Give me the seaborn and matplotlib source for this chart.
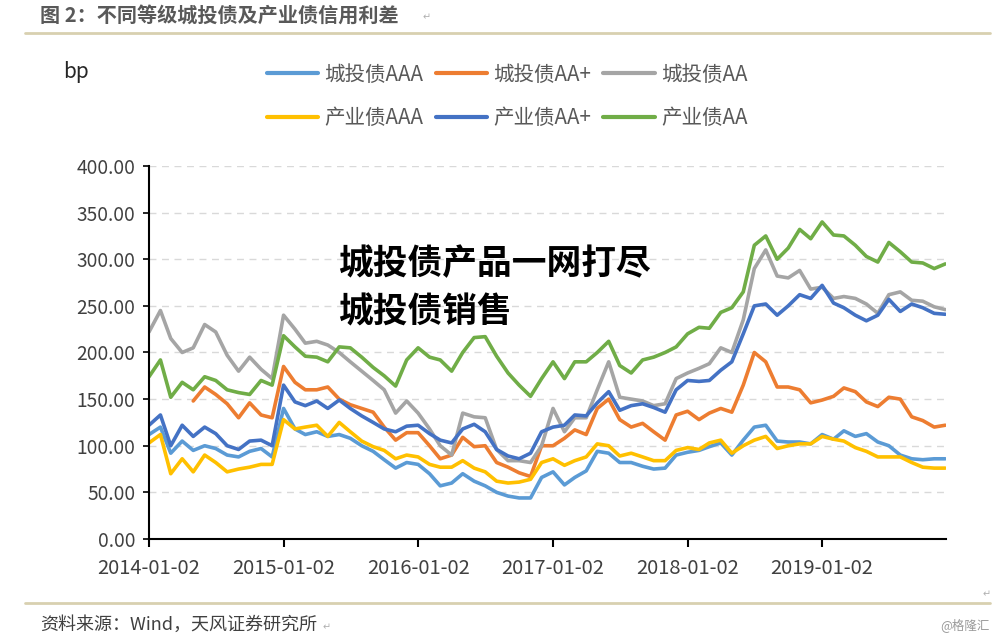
import numpy as np
import pandas as pd
import matplotlib
matplotlib.use('Agg')
import matplotlib.pyplot as plt
from matplotlib.lines import Line2D
from matplotlib.ticker import FuncFormatter
import seaborn as sns

# monthly readings (bp), Jan 2014 - Dec 2019
dates = pd.date_range('2014-01-01', periods=72, freq='MS') + pd.Timedelta(days=1)
nan = np.nan

ct_aaa = [112, 120, 92, 105, 95, 100, 97, 90, 88, 94, 97, 88,
          140, 118, 112, 115, 110, 112, 108, 100, 94, 85, 76, 82,
          80, 70, 57, 60, 70, 62, 57, 50, 46, 44, 44, 66,
          72, 58, 66, 73, 94, 92, 82, 82, 78, 75, 76, 90,
          93, 95, 99, 103, 90, 106, 120, 122, 105, 104, 104, 102,
          112, 107, 116, 110, 113, 104, 100, 90, 86, 85, 86, 86]
ct_aa_plus = [nan, nan, nan, nan, 148, 163, 155, 145, 130, 146, 133, 130,
              185, 168, 160, 160, 163, 150, 144, 140, 136, 120, 106, 114,
              114, 100, 86, 90, 109, 99, 100, 82, 77, 71, 67, 100,
              100, 108, 117, 112, 140, 150, 128, 120, 124, 115, 106, 133,
              137, 128, 135, 140, 136, 165, 200, 190, 163, 163, 160, 146,
              149, 153, 162, 158, 147, 142, 152, 150, 131, 127, 120, 122]
ct_aa = [222, 245, 215, 200, 205, 230, 222, 197, 180, 195, 182, 172,
         240, 225, 210, 212, 208, 200, 190, 180, 170, 160, 135, 148,
         135, 118, 100, 90, 135, 131, 130, 96, 84, 84, 82, 100,
         140, 115, 130, 130, 160, 190, 152, 150, 148, 143, 145, 172,
         178, 183, 188, 205, 200, 235, 290, 310, 282, 280, 288, 268,
         270, 258, 260, 258, 252, 242, 262, 265, 256, 255, 249, 246]
cy_aaa = [103, 112, 70, 86, 72, 90, 82, 72, 75, 77, 80, 80,
          128, 118, 120, 122, 110, 125, 115, 105, 99, 95, 86, 90,
          88, 80, 77, 77, 84, 76, 72, 62, 60, 61, 64, 82,
          86, 79, 84, 88, 102, 100, 89, 92, 88, 84, 84, 95,
          98, 96, 103, 106, 92, 100, 106, 110, 97, 100, 102, 102,
          110, 107, 105, 98, 94, 88, 88, 88, 82, 77, 76, 76]
cy_aa_plus = [122, 133, 100, 122, 110, 120, 113, 100, 96, 105, 106, 100,
              165, 147, 143, 148, 140, 149, 140, 132, 125, 118, 115, 121,
              122, 113, 106, 103, 118, 123, 115, 96, 89, 86, 92, 115,
              120, 122, 133, 132, 146, 158, 138, 143, 145, 141, 136, 160,
              170, 169, 170, 181, 190, 220, 250, 252, 240, 250, 262, 258,
              272, 253, 248, 240, 234, 240, 257, 244, 252, 248, 242, 241]
cy_aa = [174, 192, 152, 168, 160, 174, 170, 160, 157, 155, 170, 165,
         218, 206, 196, 195, 190, 206, 205, 195, 184, 175, 164, 192,
         205, 195, 192, 180, 200, 216, 217, 196, 178, 165, 153, 172,
         190, 172, 190, 190, 200, 212, 186, 178, 192, 195, 200, 206,
         220, 227, 226, 243, 248, 265, 315, 325, 300, 312, 332, 322,
         340, 326, 325, 315, 303, 297, 318, 308, 297, 296, 290, 295]

series_names = ['城投债AAA', '城投债AA+', '城投债AA', '产业债AAA', '产业债AA+', '产业债AA']
colors = ['#5B9BD5', '#ED7D31', '#A5A5A5', '#FFC000', '#4472C4', '#70AD47']
year_ticks = pd.to_datetime([f'{y}-01-02' for y in range(2014, 2020)])

wide = pd.DataFrame({'date': dates})
for name, vals in zip(series_names, [ct_aaa, ct_aa_plus, ct_aa, cy_aaa, cy_aa_plus, cy_aa]):
    wide[name] = vals
df = wide.melt(id_vars='date', var_name='series', value_name='spread').dropna()

sns.set_style('white')
plt.rcParams['font.family'] = ['Noto Sans CJK SC', 'DejaVu Sans']

fig = plt.figure(figsize=(10, 6.38), dpi=100)
ax = fig.add_axes([0.149, 0.1552, 0.797, 0.5846])

sns.lineplot(data=df, x='date', y='spread', hue='series', hue_order=series_names,
             palette=dict(zip(series_names, colors)), linewidth=2.6,
             estimator=None, sort=True, ax=ax)

# axes
ax.set_xlim(pd.Timestamp('2014-01-02'), pd.Timestamp('2019-12-04'))
ax.set_ylim(0, 400)
ax.set_yticks(np.arange(0, 401, 50))
ax.yaxis.set_major_formatter(FuncFormatter(lambda v, p: f'{v:.2f}'))
ax.set_xticks(year_ticks)
ax.set_xticklabels([d.strftime('%Y-%m-%d') for d in year_ticks])
ax.set_xlabel('')
ax.set_ylabel('')
ax.yaxis.grid(True, color='#d9d9d9', linestyle=(0, (5, 4)), linewidth=1)
ax.set_axisbelow(True)
for side in ['top', 'right']:
    ax.spines[side].set_visible(False)
for side in ['left', 'bottom']:
    ax.spines[side].set_color('black')
    ax.spines[side].set_linewidth(1.5)
ax.tick_params(axis='x', direction='out', length=6, width=1.5, color='black',
               labelsize=14.5, labelcolor='#404040', pad=8, bottom=True)
ax.tick_params(axis='y', direction='out', length=4, width=1.2, color='black',
               labelsize=13.8, labelcolor='#404040', pad=6, left=True)

# legend, 2 rows x 3 cols
handles, labels = ax.get_legend_handles_labels()
ax.get_legend().remove()
order = [0, 3, 1, 4, 2, 5]
leg = fig.legend([handles[i] for i in order], [labels[i] for i in order], ncol=3,
                 loc='center', bbox_to_anchor=(0.507, 0.849), frameon=False,
                 fontsize=14.8, handlelength=2.5, handletextpad=0.3,
                 columnspacing=0.6, labelspacing=1.05, labelcolor='#595959')
for line in leg.get_lines():
    line.set_linewidth(3)

# page decorations
fig.text(0.04, 1 - 15 / 638, '图 2：不同等级城投债及产业债信用利差', fontsize=14.5,
         fontweight='bold', color='#595959', va='center')
fig.text(0.423, 1 - 17 / 638, '↵', fontsize=7, color='#b0b0b0', va='center', family=['DejaVu Sans'])
fig.add_artist(Line2D([0.025, 0.99], [1 - 33 / 638] * 2, color='#d8d0b0', lw=2,
                      transform=fig.transFigure))
fig.add_artist(Line2D([0.025, 0.99], [1 - 603 / 638] * 2, color='#d8d0b0', lw=2,
                      transform=fig.transFigure))
fig.text(0.983, 1 - 594 / 638, '↵', fontsize=7, color='#b0b0b0', va='center', family=['DejaVu Sans'])
fig.text(0.063, 1 - 72 / 638, 'bp', fontsize=15, color='#262626', va='center')

fig.text(0.338, 1 - 264 / 638, '城投债产品一网打尽', fontsize=25, fontweight='bold',
         color='black', va='center')
fig.text(0.338, 1 - 312 / 638, '城投债销售', fontsize=25, fontweight='bold',
         color='black', va='center')

fig.text(0.04, 1 - 625 / 638, '资料来源：Wind，天风证券研究所', fontsize=13,
         color='#404040', va='center')
fig.text(0.323, 1 - 627 / 638, '↵', fontsize=7, color='#b0b0b0', va='center', family=['DejaVu Sans'])
fig.text(0.99, 1 - 625 / 638, '@格隆汇', fontsize=9, color='#9a9a9a', ha='right', va='center')

fig.savefig('out.png', dpi=100)
